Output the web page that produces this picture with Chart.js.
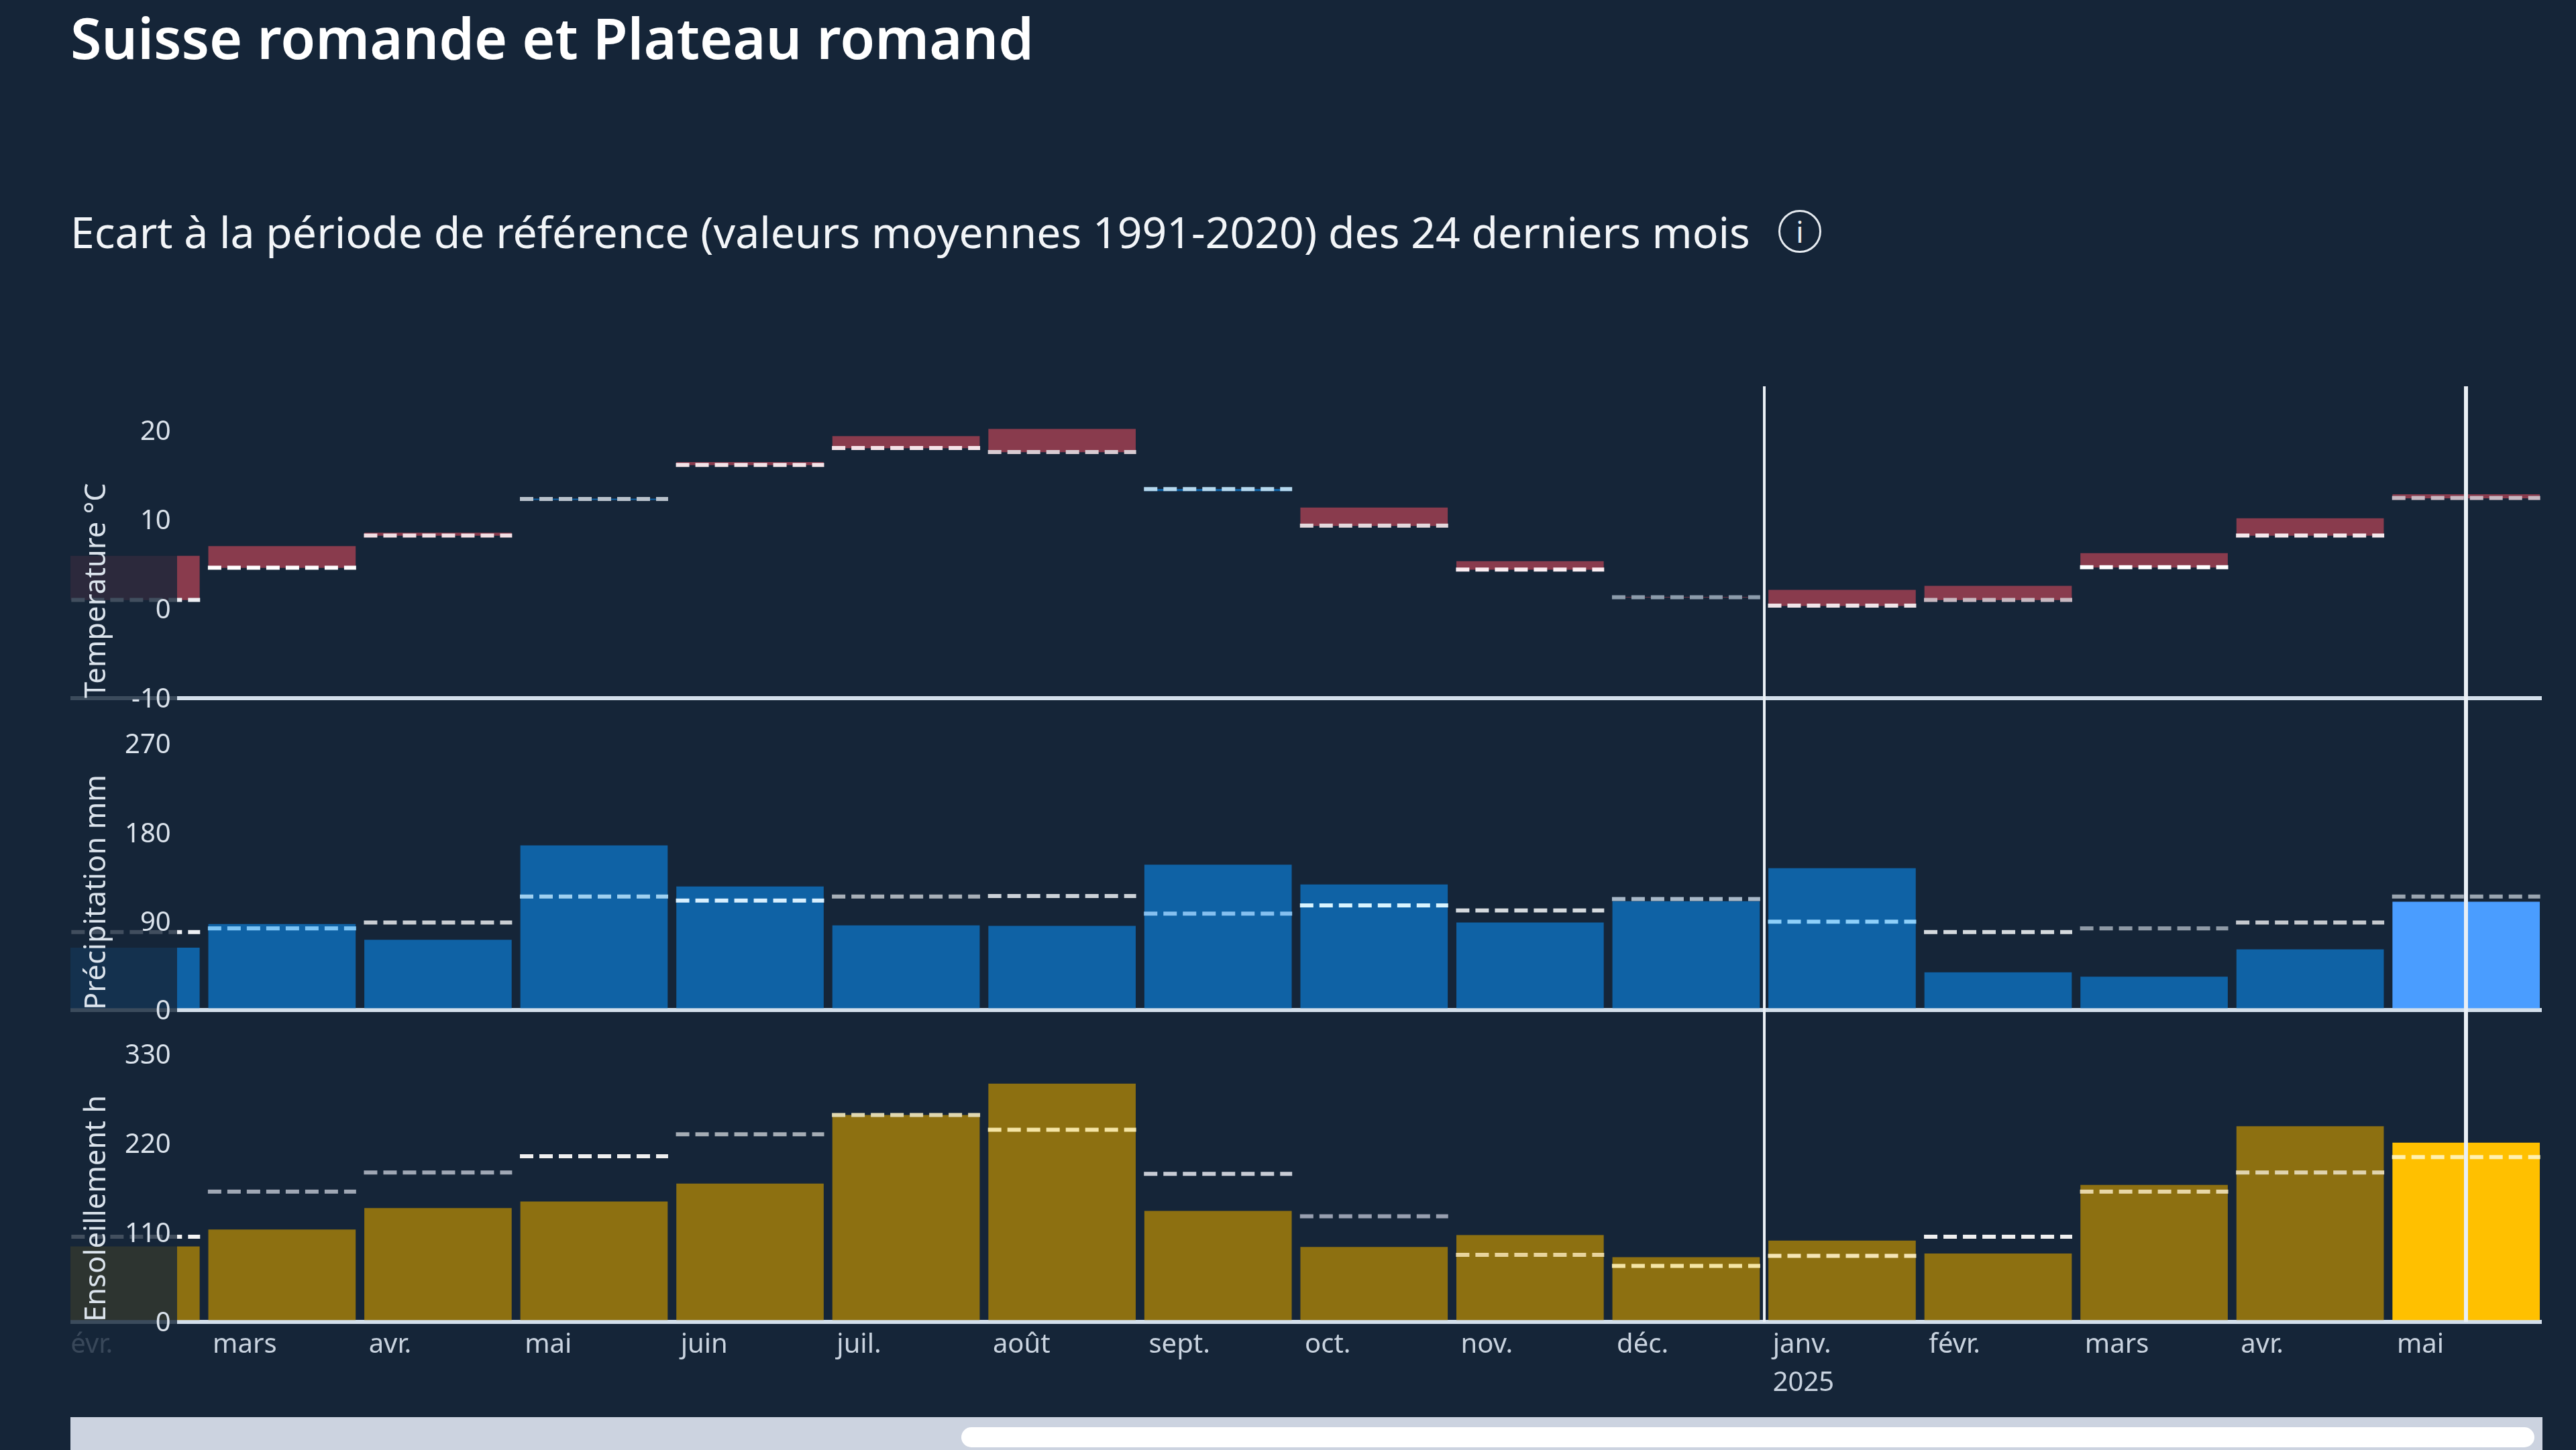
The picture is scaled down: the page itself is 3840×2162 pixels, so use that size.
<!DOCTYPE html>
<html lang="fr">
<head>
<meta charset="utf-8">
<title>Suisse romande et Plateau romand</title>
<script src="https://cdn.jsdelivr.net/npm/chart.js@4"></script>
<style>
html,body{margin:0;padding:0;width:3840px;height:2162px;overflow:hidden;background:#152538;font-family:"Noto Sans",sans-serif}
#wrap{position:relative;width:3840px;height:2162px;overflow:hidden}
#chart{position:absolute;left:0;top:0}
h1{position:absolute;left:105px;top:0;margin:0;font-size:84.3px;line-height:112px;font-weight:600;color:#fff;white-space:nowrap}
h2{position:absolute;left:105px;top:300px;margin:0;font-size:64.3px;line-height:90px;font-weight:400;color:#f2f5f8;white-space:nowrap}
#info{position:absolute;left:2651px;top:313px;width:58px;height:58px;border:3px solid #e6ebf0;border-radius:50%;color:#e6ebf0;font-size:44px;line-height:58px;text-align:center;box-sizing:content-box}
#track{position:absolute;left:105px;top:2113px;width:3685px;height:60px;background:#ccd3e0}
#thumb{position:absolute;left:1328px;top:15px;width:2345px;height:30px;border-radius:15px;background:#fff}
</style>
</head>
<body>
<div id="wrap">
  <h1>Suisse romande et Plateau romand</h1>
  <h2>Ecart à la période de référence (valeurs moyennes 1991-2020) des 24 derniers mois</h2>
  <div id="info">i</div>
  <canvas id="chart" width="3840" height="2162"></canvas>
  <div id="track"><div id="thumb"></div></div>
</div>
<script>
const months = ['févr.','mars','avr.','mai','juin','juil.','août','sept.','oct.','nov.','déc.','janv.','févr.','mars','avr.','mai'];
const yearStartMonth = 11;
const yearLabel = '2025';
const currentMonth = 15;

const tempValues = [5.9,7.0,8.5,12.2,16.4,19.3,20.1,13.2,11.3,5.3,1.3,2.1,2.55,6.2,10.1,12.8];
const tempRefs   = [1.0,4.6,8.2,12.3,16.1,18.0,17.55,13.4,9.3,4.4,1.3,0.35,1.0,4.65,8.2,12.4];
const precipValues = [63,87,71,166.6,125,85.5,85,147,127,88.4,110,143.5,38,33.5,61.2,109.5];
const precipRefs   = [79,82.8,88.6,115,111,115,115.6,97.7,106,101,112.5,89.6,79,82.8,88.6,115];
const sunValues = [92.6,113.5,140,148,170,254.5,293,136.4,92,106.7,79.5,99.8,84,168.5,240.6,220.4];
const sunRefs   = [104.8,160.5,184,204,231,254.7,236.5,182.3,130,82.5,69,81.4,104.8,160.5,184,203];

const tempDash = ['#eef0f4','#ffffff','#f3dfe4','#b8c1cb','#f4e4e8','#f5e3e8','#d8ccd2','#b5d8ee','#e4d8dc','#fbeef2','#8c9cab','#f0e4e8','#c8b8c0','#ffffff','#f5e8ec','#c8b8c2'];
const precipDash = ['#eef0f4','#7cc4f5','#c9cdd2','#9ed0f0','#d8f0ff','#a8b0b8','#ccd2d8','#85c0f0','#d8f4ff','#d5dade','#a8b8c8','#8ed0fa','#d5dade','#8f9aa6','#c5c9ce','#9aa5b0'];
const sunDash = ['#f5f5f5','#a0a8b5','#a0a8b5','#f0f0f0','#a5adb5','#e0d8b0','#f5e5a5','#c8ccd5','#98a0b0','#e8d49c','#f5e5a5','#f5e5b5','#f0f0f0','#e8d8a8','#e0d4b0','#fff0b0'];

const FONT = '"Noto Sans", sans-serif';
const BG = '#152538';
const RED = '#893b4d', COOL = '#0f62a5';
const BLUE = '#0f62a5', BLUE_ON = '#4a9dff';
const GOLD = '#8d7011', GOLD_ON = '#ffc000';
const AXIS = '#d3dfeb', TEXT = '#dbe3ec', MONTH = '#c9d3df';

const barPts = (vals) => vals.map((v,i)=>({x:i,y:v}));
const floatPts = (vals,refs) => vals.map((v,i)=>({x:i,y:[refs[i],v]}));
const refPts = (refs) => refs.flatMap((r,i)=>[{x:i-0.475,y:r},{x:i+0.475,y:r},{x:i,y:null}]);

const refSet = (refs,colors,axis) => ({
  type:'line', data:refPts(refs), yAxisID:axis, order:0, pointRadius:0, borderWidth:6,
  borderColor:colors[0], borderDash:[20,9], borderCapStyle:'butt', spanGaps:false, tension:0,
  segment:{borderColor:c=>colors[Math.floor(c.p0DataIndex/3)]}
});
const barSet = (data,axis,color) => ({
  type:'bar', data, yAxisID:axis, order:1, grouped:false, barThickness:219, borderWidth:0, backgroundColor:color
});

const xTicks = () => {
  const t = [{value:-0.411}];
  months.forEach((m,i)=>{ if(i>0) t.push({value:i-0.5}); });
  t.push({value:currentMonth});
  return t;
};
const markTick = v => v===yearStartMonth-0.5 || v===currentMonth;

const yAxis = (min,max,step,title,pad) => ({
  type:'linear', position:'left', stack:'panels', stackWeight:1, min, max,
  afterFit(s){ s.width=0; },
  border:{display:false},
  grid:{drawTicks:false, z:-1, lineWidth:6, color:c=>c.tick.value===min?AXIS:'rgba(0,0,0,0)'},
  title:{display:true,text:title,align:'start',color:TEXT,font:{family:FONT,size:43.5,lineHeight:1.2},padding:{top:14,bottom:0}},
  ticks:{mirror:true,crossAlign:'far',z:2,padding:pad,labelOffset:3,stepSize:step,includeBounds:false,color:TEXT,font:{family:FONT,size:40},callback:v=>String(v)}
});

const fadePlugin = {
  id:'fade',
  beforeDraw(chart){
    ['ySun','yPrecip','yTemp'].forEach(k=>{
      const s=chart.scales[k];
      if(!s.$title){ s.$title=s.drawTitle.bind(s); s.drawTitle=()=>{}; }
    });
  },
  afterDatasetsDraw(chart){
    const a=chart.chartArea, c=chart.ctx;
    c.save();
    c.globalAlpha=0.8; c.fillStyle=BG;
    c.fillRect(a.left,a.top,264-a.left,a.bottom-a.top+5);
    c.restore();
    ['ySun','yPrecip','yTemp'].forEach(k=>chart.scales[k].$title());
  }
};

new Chart(document.getElementById('chart'),{
  type:'bar',
  plugins:[fadePlugin],
  data:{datasets:[
    refSet(tempRefs,tempDash,'yTemp'),
    refSet(precipRefs,precipDash,'yPrecip'),
    refSet(sunRefs,sunDash,'ySun'),
    barSet(floatPts(tempValues,tempRefs),'yTemp',tempValues.map((v,i)=>v>=tempRefs[i]?RED:COOL)),
    barSet(barPts(precipValues),'yPrecip',precipValues.map((v,i)=>i===currentMonth?BLUE_ON:BLUE)),
    barSet(barPts(sunValues),'ySun',sunValues.map((v,i)=>i===currentMonth?GOLD_ON:GOLD))
  ]},
  options:{
    responsive:false, devicePixelRatio:1, animation:false,
    layout:{padding:{left:105,right:51,top:576,bottom:51}},
    plugins:{legend:{display:false},tooltip:{enabled:false},title:{display:false}},
    events:[],
    scales:{
      x:{
        type:'linear', position:'bottom', offset:false, min:-0.356, max:15.485,
        afterBuildTicks(s){ s.ticks=xTicks(); },
        afterFit(s){ s.height=140; },
        border:{display:false},
        grid:{z:1,offset:false,drawTicks:false,
          color:c=>c.tick&&markTick(c.tick.value)?'#e9eff5':'rgba(0,0,0,0)',
          lineWidth:c=>c.tick&&c.tick.value===currentMonth?6:4},
        ticks:{autoSkip:false,maxRotation:0,minRotation:0,align:'start',labelOffset:13,padding:6,
          color:c=>c.tick&&c.tick.value<0?'rgba(201,211,223,0.2)':MONTH,
          font:{family:FONT,size:40,lineHeight:1.425},
          callback(v){
            if(v===currentMonth) return '';
            if(v<0) return months[0].slice(1);
            const i=v+0.5;
            return i===yearStartMonth?[months[i],yearLabel]:months[i];
          }}
      },
      ySun:yAxis(0,384,110,'Ensoleillement h',81),
      yPrecip:yAxis(0,316,90,'Précipitation mm',81),
      yTemp:yAxis(-10,24.9,10,'Temperature °C',91)
    }
  }
});
</script>
</body>
</html>
